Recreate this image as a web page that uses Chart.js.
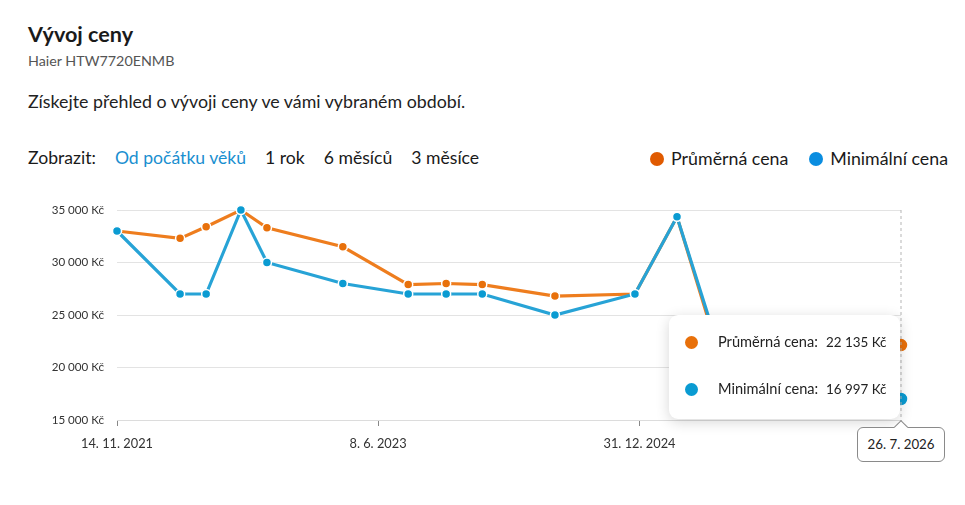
<!DOCTYPE html>
<html>
<head>
<meta charset="utf-8">
<script src="https://cdn.jsdelivr.net/npm/chart.js@4/dist/chart.umd.min.js"></script>
<style>
  html,body{margin:0;padding:0;background:#fff;}
  body{width:965px;height:505px;position:relative;overflow:hidden;font-family:Lato,"Noto Sans",sans-serif;color:#1a1a1a;}
  .abs{position:absolute;white-space:nowrap;}
  #title{left:28px;top:21px;font-size:21.6px;font-weight:700;}
  #sub{left:28px;top:52px;font-size:14.3px;color:#555;}
  #desc{left:28px;top:90px;font-size:17.8px;color:#222;}
  #nav{left:28px;top:147px;font-size:17.6px;color:#1a1a1a;}
  #nav span{margin-right:19px;}
  #nav .act{color:#1a8fd0;}
  #legend{right:17px;top:147px;font-size:17.8px;color:#1a1a1a;}
  #legend i{display:inline-block;width:14px;height:14px;border-radius:50%;vertical-align:-1px;margin-right:7px;}
  #wrap{position:absolute;left:0;top:195px;width:940px;height:260px;}
  #tip{position:absolute;background:#fff;border-radius:9px;box-shadow:0 3px 14px rgba(0,0,0,0.16);color:#222;}
  #tip .row{position:absolute;left:0;white-space:nowrap;line-height:18px;}
  #tip i{position:absolute;width:13px;height:13px;border-radius:50%;}
  #datebox{position:absolute;background:#fff;border:1px solid #8a8a8a;border-radius:6px;font-size:13.3px;color:#222;text-align:center;}
  #caret{position:absolute;width:9px;height:9px;background:#fff;border-left:1px solid #8a8a8a;border-top:1px solid #8a8a8a;transform:rotate(45deg);}
</style>
</head>
<body>
<div id="title" class="abs">Vývoj ceny</div>
<div id="sub" class="abs">Haier HTW7720ENMB</div>
<div id="desc" class="abs">Získejte přehled o vývoji ceny ve vámi vybraném období.</div>
<div id="nav" class="abs"></div>
<div id="legend" class="abs"></div>
<div id="wrap"><canvas id="c"></canvas></div>
<div id="tip"></div>
<div id="caret"></div>
<div id="datebox"></div>
<script>
// ---- data ----
const dates = ["2021-11-14","2022-04-01","2022-05-28","2022-08-12","2022-10-08","2023-03-23","2023-08-13","2023-11-04","2024-01-22","2024-06-29","2024-12-21","2025-03-23","2025-06-14","2026-07-26"];
const avgPrice = [33000,32300,33400,35000,33300,31500,27900,28000,27900,26800,27000,34350,22500,22135];
const minPrice = [33000,27000,27000,35000,30000,28000,27000,27000,27000,25000,27000,34350,22900,16997];
const seriesNames = ["Průměrná cena","Minimální cena"];
const xTickDates = ["2021-11-14","2023-06-08","2024-12-31","2026-07-26"];
const yTicks = [15000,20000,25000,30000,35000];
const navItems = ["Od počátku věků","1 rok","6 měsíců","3 měsíce"];

const DAY = 86400000;
const t0 = Date.parse(xTickDates[0]);
const toDay = s => Math.round((Date.parse(s) - t0) / DAY);
const fmtNum = v => String(v).replace(/\B(?=(\d{3})+(?!\d))/g, "\u00a0");
const fmtKc = v => fmtNum(v) + "\u00a0Kč";
const fmtDate = s => { const d = new Date(s); return d.getUTCDate() + ". " + (d.getUTCMonth()+1) + ". " + d.getUTCFullYear(); };

const ORANGE = "#ee7d1e", ORANGE_PT = "#e8700a";
const BLUE = "#27a3d6", BLUE_PT = "#0a9bd2";

document.getElementById("nav").innerHTML = "<span>Zobrazit:</span>" +
  navItems.map((n,i)=>"<span class='"+(i===0?"act":"")+"'>"+n+"</span>").join("");
document.getElementById("legend").innerHTML =
  "<i style='background:#e05a00'></i><span style='margin-right:21px'>"+seriesNames[0]+"</span>" +
  "<i style='background:#0a8de0'></i><span>"+seriesNames[1]+"</span>";

const last = dates.length - 1;
const ptRadius = (ctx) => ctx.dataIndex === last ? 7 : 4.5;

const hoverLine = {
  id: "hoverLine",
  afterDatasetsDraw(chart) {
    const x = chart.scales.x.getPixelForValue(toDay(dates[last]));
    const {top, bottom} = chart.chartArea;
    const ctx = chart.ctx;
    ctx.save();
    ctx.strokeStyle = "#b5b5b5";
    ctx.lineWidth = 1;
    ctx.setLineDash([3,3]);
    ctx.beginPath(); ctx.moveTo(x, top); ctx.lineTo(x, bottom); ctx.stroke();
    ctx.restore();
  }
};

const chart = new Chart(document.getElementById("c"), {
  type: "line",
  data: {
    datasets: [
      { label: seriesNames[0], order: 1, data: dates.map((d,i)=>({x:toDay(d), y:avgPrice[i]})),
        borderColor: ORANGE, backgroundColor: ORANGE_PT, pointBackgroundColor: ORANGE_PT,
        pointBorderColor: "#fff", pointBorderWidth: 1.5, pointRadius: ptRadius, borderWidth: 3.2, tension: 0, clip: false },
      { label: seriesNames[1], order: 0, data: dates.map((d,i)=>({x:toDay(d), y:minPrice[i]})),
        borderColor: BLUE, backgroundColor: BLUE_PT, pointBackgroundColor: BLUE_PT,
        pointBorderColor: "#fff", pointBorderWidth: 1.5, pointRadius: ptRadius, borderWidth: 3.2, tension: 0, clip: false }
    ]
  },
  options: {
    responsive: true, maintainAspectRatio: false, animation: false,
    layout: { autoPadding: false, padding: { top: 15, right: 39, left: 0, bottom: 0 } },
    plugins: { legend: { display: false }, tooltip: { enabled: false } },
    scales: {
      x: {
        type: "linear",
        min: toDay(xTickDates[0]), max: toDay(xTickDates[xTickDates.length-1]),
        afterBuildTicks: (s) => { s.ticks = xTickDates.slice(0,-1).map(d => ({value: toDay(d)})); },
        afterFit: (s) => { s.height = 35; s.paddingLeft = 0; s.paddingRight = 0; },
        ticks: { autoSkip: false, maxRotation: 0, padding: 10, color: "#333",
          font: { family: "Lato, 'Noto Sans', sans-serif", size: 12.8 },
          callback: (v) => { const i = xTickDates.findIndex(d => toDay(d) === v); return i >= 0 ? fmtDate(xTickDates[i]) : ""; } },
        grid: { drawOnChartArea: false, drawTicks: true, tickLength: 6, color: "#888", tickColor: "#888" },
        border: { display: true, color: "#dcdcdc" }
      },
      y: {
        min: 15000, max: 35000,
        afterBuildTicks: (s) => { s.ticks = yTicks.map(v => ({value: v})); },
        afterFit: (s) => { s.width = 117; s.paddingTop = 0; s.paddingBottom = 0; },
        ticks: { padding: 13, color: "#333", font: { family: "Lato, 'Noto Sans', sans-serif", size: 11.6 },
          callback: (v) => fmtKc(v) },
        grid: { color: "#e3e3e3", drawTicks: false },
        border: { display: false }
      }
    }
  },
  plugins: [hoverLine]
});

// tooltip overlay placed from the chart's scales
(function(){
  const wrap = document.getElementById("wrap");
  const ox = wrap.offsetLeft, oy = wrap.offsetTop;
  const px = ox + chart.scales.x.getPixelForValue(toDay(dates[last]));
  const area = chart.chartArea;
  const tip = document.getElementById("tip");
  const w = 231, h = 104;
  tip.style.left = (px - 1 - w) + "px";
  tip.style.top = (oy + area.bottom - h - 1) + "px";
  tip.style.width = w + "px"; tip.style.height = h + "px";
  const rows = [[avgPrice[last], ORANGE_PT, seriesNames[0]], [minPrice[last], BLUE_PT, seriesNames[1]]];
  tip.innerHTML = rows.map((r,i)=>{
    const cy = 27 + i*47;
    return "<i style='left:16px;top:"+(cy-6.5)+"px;background:"+r[1]+"'></i>" +
      "<div class='row' style='left:49px;top:"+(cy-9)+"px;font-size:14.6px'>"+r[2]+":</div>" +
      "<div class='row' style='left:157px;top:"+(cy-9)+"px;font-size:13.4px'>"+fmtKc(r[0])+"</div>";
  }).join("");
  const db = document.getElementById("datebox");
  const bw = 86, bh = 33;
  db.style.left = (px - 44) + "px";
  db.style.top = (oy + area.bottom + 7) + "px";
  db.style.width = bw + "px"; db.style.height = bh + "px"; db.style.lineHeight = bh + "px";
  db.textContent = fmtDate(dates[last]);
  const caret = document.getElementById("caret");
  caret.style.left = (px - 5) + "px";
  caret.style.top = (oy + area.bottom + 2) + "px";
  caret.style.zIndex = 2;
})();
</script>
</body>
</html>
